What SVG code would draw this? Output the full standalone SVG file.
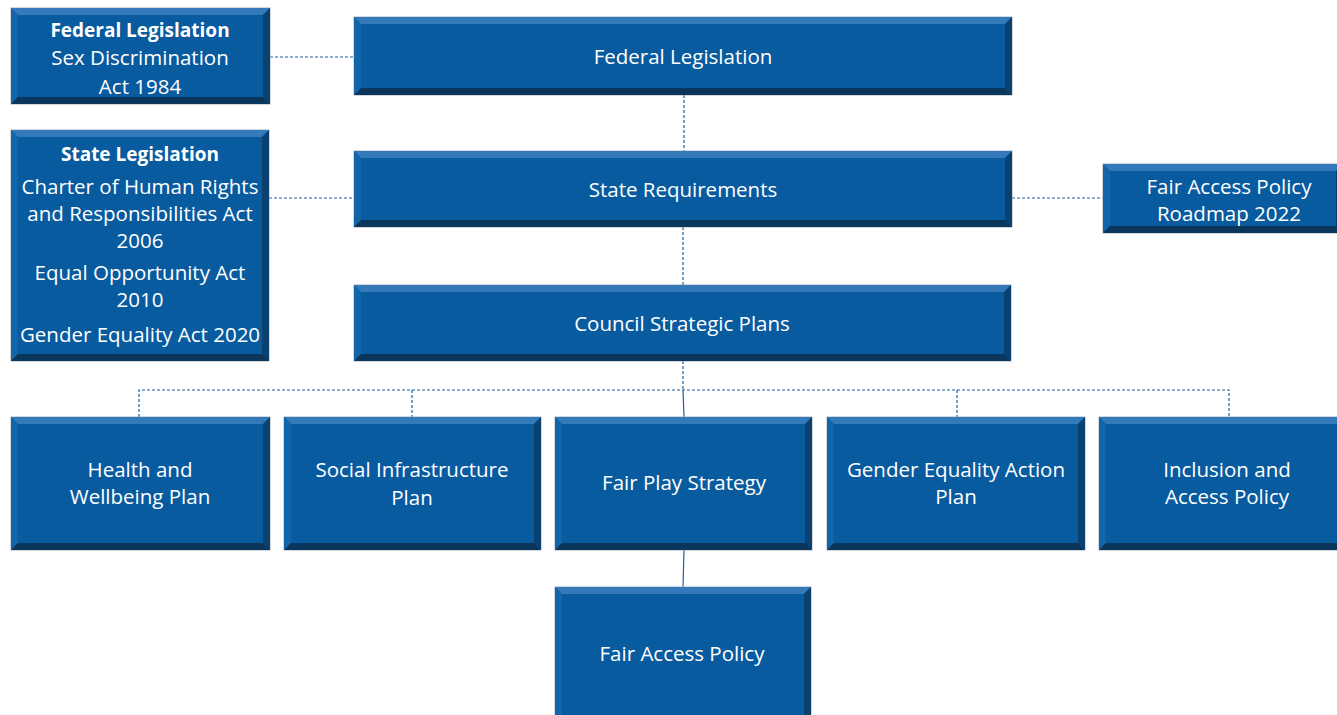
<svg xmlns="http://www.w3.org/2000/svg" width="1337" height="715" viewBox="0 0 1337 715">
<style>
.base{fill:#095b9f;stroke:#a9b1b9;stroke-width:1}
.bt{fill:#3479b9}
.bl{fill:#1265a9}
.br{fill:#0b416f}
.bb{fill:#0b365c}
.t{font-family:"Open Sans","Noto Sans","Liberation Sans",sans-serif;font-size:20.5px;fill:#ffffff;text-anchor:middle}
.b{font-weight:bold;font-size:19px}
.c{fill:none;stroke:#1f5f9f;stroke-width:1.2;stroke-dasharray:3 2}
.s{fill:none;stroke:#1f5f9f;stroke-width:1.2}
</style>
<rect width="1337" height="715" fill="#ffffff"/>
<g id="connectors">
<line class="c" x1="270" y1="57" x2="354" y2="57"/>
<line class="c" x1="684" y1="95" x2="684" y2="151"/>
<line class="c" x1="269" y1="198" x2="354" y2="198"/>
<line class="c" x1="1012" y1="198" x2="1103" y2="198"/>
<line class="c" x1="683" y1="227" x2="683" y2="285"/>
<line class="c" x1="683" y1="361" x2="683" y2="390"/>
<polyline class="c" points="139,417 139,390 1229,390 1229,417"/>
<line class="c" x1="412" y1="390" x2="412" y2="417"/>
<line class="s" x1="683" y1="390" x2="684" y2="417"/>
<line class="c" x1="957" y1="390" x2="957" y2="417"/>
<line class="s" x1="684" y1="550" x2="683" y2="587"/>
</g>
<g id="fed-leg">
<rect class="base" x="11" y="8" width="259" height="96"/>
<polygon class="bt" points="11,8 270,8 263,15 18,15"/>
<polygon class="bl" points="11,8 18,15 18,97 11,104"/>
<polygon class="br" points="270,8 270,104 263,97 263,15"/>
<polygon class="bb" points="11,104 270,104 263,97 18,97"/>
<text class="t b" x="140" y="37">Federal Legislation</text>
<text class="t" x="140" y="65">Sex Discrimination</text>
<text class="t" x="140" y="94">Act 1984</text>
</g>
<g id="federal">
<rect class="base" x="354" y="17" width="658" height="78"/>
<polygon class="bt" points="354,17 1012,17 1005,24 361,24"/>
<polygon class="bl" points="354,17 361,24 361,88 354,95"/>
<polygon class="br" points="1012,17 1012,95 1005,88 1005,24"/>
<polygon class="bb" points="354,95 1012,95 1005,88 361,88"/>
<text class="t" x="683" y="64">Federal Legislation</text>
</g>
<g id="state-leg">
<rect class="base" x="11" y="130" width="258" height="231"/>
<polygon class="bt" points="11,130 269,130 262,137 18,137"/>
<polygon class="bl" points="11,130 18,137 18,354 11,361"/>
<polygon class="br" points="269,130 269,361 262,354 262,137"/>
<polygon class="bb" points="11,361 269,361 262,354 18,354"/>
<text class="t b" x="140" y="161">State Legislation</text>
<text class="t" x="140" y="194">Charter of Human Rights</text>
<text class="t" x="140" y="221">and Responsibilities Act</text>
<text class="t" x="140" y="248">2006</text>
<text class="t" x="140" y="280">Equal Opportunity Act</text>
<text class="t" x="140" y="307">2010</text>
<text class="t" x="140" y="342">Gender Equality Act 2020</text>
</g>
<g id="state-req">
<rect class="base" x="354" y="151" width="658" height="76"/>
<polygon class="bt" points="354,151 1012,151 1005,158 361,158"/>
<polygon class="bl" points="354,151 361,158 361,220 354,227"/>
<polygon class="br" points="1012,151 1012,227 1005,220 1005,158"/>
<polygon class="bb" points="354,227 1012,227 1005,220 361,220"/>
<text class="t" x="683" y="197">State Requirements</text>
</g>
<g id="roadmap">
<rect class="base" x="1103" y="164" width="240" height="69"/>
<polygon class="bt" points="1103,164 1343,164 1336,171 1110,171"/>
<polygon class="bl" points="1103,164 1110,171 1110,226 1103,233"/>
<polygon class="br" points="1343,164 1343,233 1336,226 1336,171"/>
<polygon class="bb" points="1103,233 1343,233 1336,226 1110,226"/>
<text class="t" x="1229" y="194">Fair Access Policy</text>
<text class="t" x="1229" y="221">Roadmap 2022</text>
</g>
<g id="council">
<rect class="base" x="354" y="285" width="657" height="76"/>
<polygon class="bt" points="354,285 1011,285 1004,292 361,292"/>
<polygon class="bl" points="354,285 361,292 361,354 354,361"/>
<polygon class="br" points="1011,285 1011,361 1004,354 1004,292"/>
<polygon class="bb" points="354,361 1011,361 1004,354 361,354"/>
<text class="t" x="682" y="331">Council Strategic Plans</text>
</g>
<g id="health">
<rect class="base" x="11" y="417" width="259" height="133"/>
<polygon class="bt" points="11,417 270,417 263,424 18,424"/>
<polygon class="bl" points="11,417 18,424 18,543 11,550"/>
<polygon class="br" points="270,417 270,550 263,543 263,424"/>
<polygon class="bb" points="11,550 270,550 263,543 18,543"/>
<text class="t" x="140" y="477">Health and</text>
<text class="t" x="140" y="504">Wellbeing Plan</text>
</g>
<g id="social">
<rect class="base" x="284" y="417" width="257" height="133"/>
<polygon class="bt" points="284,417 541,417 534,424 291,424"/>
<polygon class="bl" points="284,417 291,424 291,543 284,550"/>
<polygon class="br" points="541,417 541,550 534,543 534,424"/>
<polygon class="bb" points="284,550 541,550 534,543 291,543"/>
<text class="t" x="412" y="477">Social Infrastructure</text>
<text class="t" x="412" y="505">Plan</text>
</g>
<g id="fairplay">
<rect class="base" x="555" y="417" width="257" height="133"/>
<polygon class="bt" points="555,417 812,417 805,424 562,424"/>
<polygon class="bl" points="555,417 562,424 562,543 555,550"/>
<polygon class="br" points="812,417 812,550 805,543 805,424"/>
<polygon class="bb" points="555,550 812,550 805,543 562,543"/>
<text class="t" x="684" y="490">Fair Play Strategy</text>
</g>
<g id="gender">
<rect class="base" x="827" y="417" width="258" height="133"/>
<polygon class="bt" points="827,417 1085,417 1078,424 834,424"/>
<polygon class="bl" points="827,417 834,424 834,543 827,550"/>
<polygon class="br" points="1085,417 1085,550 1078,543 1078,424"/>
<polygon class="bb" points="827,550 1085,550 1078,543 834,543"/>
<text class="t" x="956" y="477">Gender Equality Action</text>
<text class="t" x="956" y="504">Plan</text>
</g>
<g id="inclusion">
<rect class="base" x="1099" y="417" width="245" height="133"/>
<polygon class="bt" points="1099,417 1344,417 1337,424 1106,424"/>
<polygon class="bl" points="1099,417 1106,424 1106,543 1099,550"/>
<polygon class="br" points="1344,417 1344,550 1337,543 1337,424"/>
<polygon class="bb" points="1099,550 1344,550 1337,543 1106,543"/>
<text class="t" x="1227" y="477">Inclusion and</text>
<text class="t" x="1227" y="504">Access Policy</text>
</g>
<g id="fair-access">
<rect class="base" x="555" y="587" width="256" height="135"/>
<polygon class="bt" points="555,587 811,587 804,594 562,594"/>
<polygon class="bl" points="555,587 562,594 562,715 555,722"/>
<polygon class="br" points="811,587 811,722 804,715 804,594"/>
<polygon class="bb" points="555,722 811,722 804,715 562,715"/>
<text class="t" x="682" y="661">Fair Access Policy</text>
</g>
</svg>
